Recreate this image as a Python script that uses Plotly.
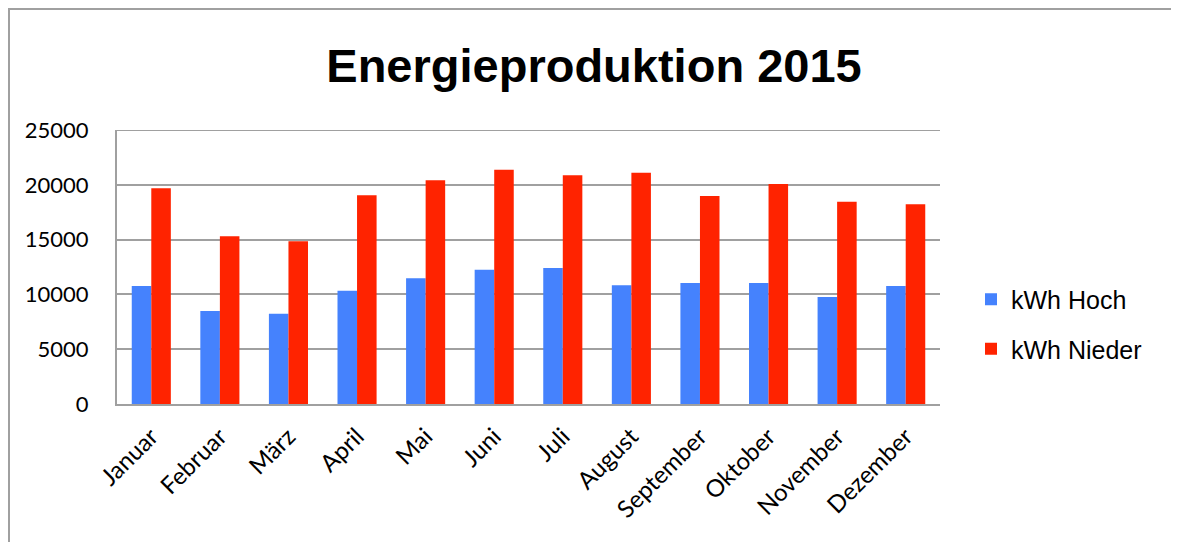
import plotly.graph_objects as go

months = ["Januar", "Februar", "März", "April", "Mai", "Juni", "Juli",
          "August", "September", "Oktober", "November", "Dezember"]
kwh_hoch = [10770, 8490, 8240, 10340, 11470, 12260, 12410, 10830, 11040, 11040, 9760, 10770]
kwh_nieder = [19680, 15300, 14840, 19040, 20410, 21380, 20860, 21110, 18980, 20070, 18460, 18220]
y_ticks = [0, 5000, 10000, 15000, 20000, 25000]

OFF = 8  # page body margin
W, H = 1179 - OFF, 542 - OFF
L, R, T, B = 117 - OFF, 940 - OFF, 130 - OFF, 404 - OFF

fig = go.Figure()
fig.add_trace(go.Bar(x=months, y=kwh_hoch, name="kWh Hoch", marker_color="#4582fd",
                     marker_line_width=0, legendgroup="a"))
fig.add_trace(go.Bar(x=months, y=kwh_nieder, name="kWh Nieder", marker_color="#ff2300",
                     marker_line_width=0, legendgroup="b"))

def px(x):
    return (x - OFF - L) / (R - L)

def py(y):
    return (B - (y - OFF)) / (B - T)

fig.update_layout(
    width=W, height=H,
    margin=dict(l=L, r=W - R, t=T, b=H - B),
    paper_bgcolor="white", plot_bgcolor="white",
    barmode="group", bargap=0.43, bargroupgap=0,
    title=dict(text="<b>Energieproduktion 2015</b>", x=(594 - OFF) / W, xref="container",
               y=1 - (66 - OFF) / H, yref="container", xanchor="center", yanchor="middle",
               font=dict(family="Liberation Sans, Arial", size=47, color="black")),
    xaxis=dict(showgrid=False, tickangle=-45, showline=True, linecolor="#a0a0a0",
               linewidth=2, ticks="", tickfont=dict(family="Lato", size=24, color="black"),
               ticklabelstandoff=7),
    yaxis=dict(range=[0, 25000], tickvals=y_ticks, tickformat="d", showgrid=True,
               gridcolor="#a0a0a0", gridwidth=2, showline=True, linecolor="#a0a0a0",
               linewidth=2, ticks="", zeroline=False,
               tickfont=dict(family="Lato", size=22, color="black"),
               ticklabelstandoff=22),
    legend=dict(x=px(971), y=py(324), xanchor="left", yanchor="middle",
                font=dict(family="Liberation Sans, Arial", size=25, color="black"),
                tracegroupgap=14, itemwidth=30, bgcolor="rgba(0,0,0,0)"),
    showlegend=True,
    shapes=[
        dict(type="line", xref="paper", yref="y", x0=0, x1=1, y0=25000, y1=25000,
             line=dict(color="#a0a0a0", width=2), layer="below"),
        dict(type="path", xref="paper", yref="paper",
             path=f"M {px(9)} {py(560)} L {px(9)} {py(9)} L {px(1172)} {py(9)} L {px(1172)} {py(560)}",
             line=dict(color="#a0a0a0", width=2), layer="below"),
    ],
)

fig.write_html("out.html")
